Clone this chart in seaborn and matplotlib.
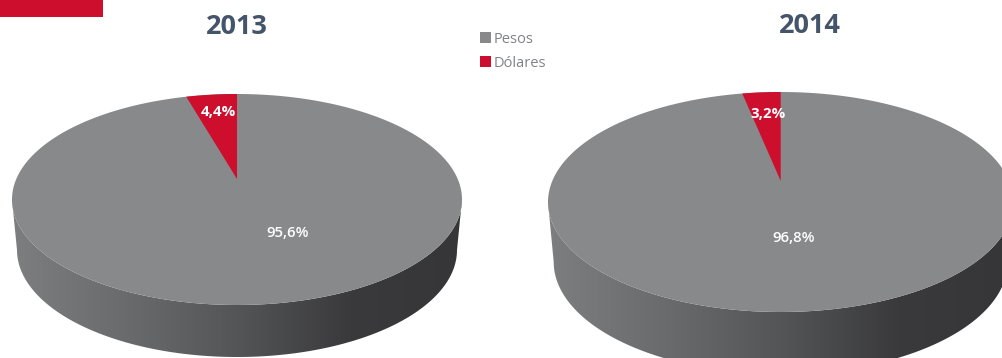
import numpy as np
import matplotlib
matplotlib.use("Agg")
import matplotlib.pyplot as plt
from matplotlib.patches import Polygon, Rectangle, Patch
import seaborn as sns

# Currency share of each year, in percent
years = ["2013", "2014"]
currencies = ["Pesos", "Dólares"]
pesos_share = [95.6, 96.8]
dolares_share = [4.4, 3.2]
share_labels_pesos = ["95,6%", "96,8%"]
share_labels_dolares = ["4,4%", "3,2%"]

# Ellipse geometry of each pie, in figure pixels
center_x = [237.0, 780.7]
center_y = [199.5, 202.0]
radius_x = [225.0, 232.7]
radius_y = [105.5, 110.0]
apex_y = [179.0, 181.0]
base_center_y = [250.0, 262.0]
base_radius_x = [220.0, 227.0]
base_radius_y = [107.0, 112.0]
title_pos = [(237, 27), (810, 26)]
pesos_label_pos = [(288, 233), (794, 238)]
dolares_label_pos = [(218, 112), (768, 114)]

GREY = "#88898b"
RED = "#cd0e2d"
TITLE = "#44546a"
LEGEND_TEXT = "#808285"

sns.set_theme(style="white")
plt.rcParams["font.family"] = ["Open Sans", "DejaVu Sans"]
side_cmap = sns.blend_palette(["#7d7e80", "#6a6b6d", "#545557", "#3a3a3c", "#363638"], as_cmap=True)

fig = plt.figure(figsize=(10.03, 3.58), dpi=100)
ax = fig.add_axes([0, 0, 1, 1])


def disc_point(angle, tilt):
    """Project a point on the rim of the pie so that the centre sits above the ellipse middle."""
    u, v = np.sin(angle), np.cos(angle)
    denom = 1 + tilt * v
    return u * np.sqrt(1 - tilt ** 2) / denom, (v + tilt) / denom


for i in range(len(years)):
    cx, cy, rx, ry = center_x[i], center_y[i], radius_x[i], radius_y[i]
    t = np.linspace(0, 2 * np.pi, 361)

    # Rim of the pie: shaded band between the lower half of the top face and the base
    low = np.linspace(np.pi, 0, 181)
    upper_edge = np.column_stack([cx + rx * np.cos(low), cy + ry * np.sin(low)])
    base = np.linspace(0, np.pi, 181)
    lower_edge = np.column_stack([cx + base_radius_x[i] * np.cos(base),
                                  base_center_y[i] + base_radius_y[i] * np.sin(base)])
    band = Polygon(np.vstack([upper_edge, lower_edge]), closed=True, fc="none", ec="none",
                   transform=ax.transData)
    ax.add_patch(band)
    gradient = ax.imshow(np.linspace(0, 1, 256)[None, :], cmap=side_cmap, aspect="auto",
                         extent=(cx - rx, cx + rx, 358, cy - ry), zorder=1, vmin=0, vmax=1)
    gradient.set_clip_path(band)

    # Top face, grey for pesos
    ax.add_patch(Polygon(np.column_stack([cx + rx * np.cos(t), cy + ry * np.sin(t)]),
                         closed=True, fc=GREY, ec="none", zorder=2))

    # Dollar slice, running anticlockwise from twelve o'clock
    tilt = (cy - apex_y[i]) / ry
    sweep = np.linspace(0, 2 * np.pi * dolares_share[i] / 100, 40)
    rim_u, rim_v = disc_point(-sweep, tilt)
    slice_xy = np.column_stack([cx + rx * rim_u, cy - ry * rim_v])
    slice_xy = np.vstack([[cx, apex_y[i]], slice_xy])
    ax.add_patch(Polygon(slice_xy, closed=True, fc=RED, ec="none", zorder=3))

    ax.text(*title_pos[i], years[i], ha="center", va="center", color=TITLE,
            fontsize=19.5, fontweight="bold", zorder=5)
    ax.text(*pesos_label_pos[i], share_labels_pesos[i], ha="center", va="center",
            color="white", fontsize=10.8, fontweight="semibold", zorder=5)
    ax.text(*dolares_label_pos[i], share_labels_dolares[i], ha="center", va="center",
            color="white", fontsize=10.8, fontweight="bold", zorder=5)

# Red tab in the top-left corner
ax.add_patch(Rectangle((0, 0), 103, 17, fc=RED, ec="none", zorder=4))

ax.set_xlim(0, 1003)
ax.set_ylim(358, 0)
ax.axis("off")

legend = ax.legend(
    handles=[Patch(fc=GREY, ec="none"), Patch(fc=RED, ec="none")],
    labels=currencies,
    loc="upper left",
    bbox_to_anchor=(477 / 1003, 1 - 29 / 358),
    frameon=False,
    fontsize=10.5,
    handlelength=0.75,
    handleheight=0.8,
    handletextpad=0.2,
    labelspacing=0.62,
    borderpad=0.2,
    borderaxespad=0,
)
for label in legend.get_texts():
    label.set_color(LEGEND_TEXT)

fig.savefig("out.png", dpi=100)
